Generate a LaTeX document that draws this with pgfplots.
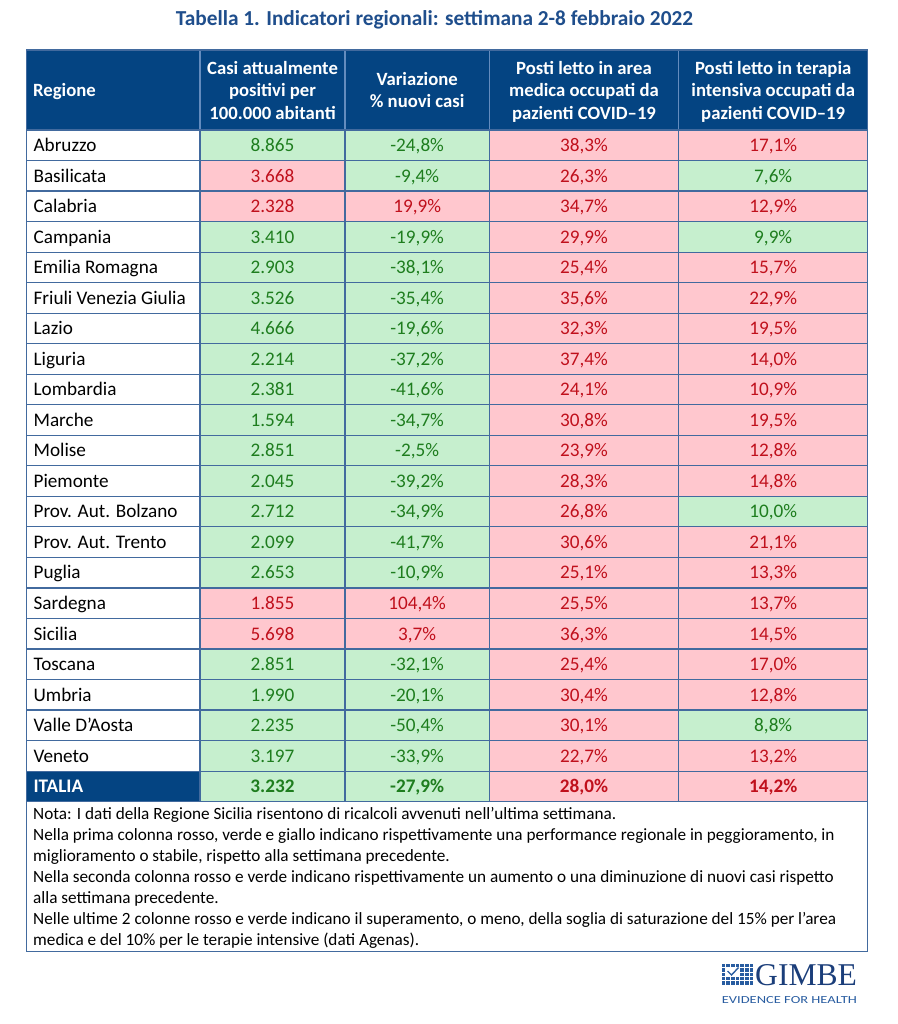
\documentclass[border=0pt]{standalone}
\usepackage{graphicx}
\usepackage{pgfplots}
\pgfplotsset{compat=1.18}
\usepackage{pgfplotstable}
\usepackage{fontspec}
\setmainfont{Carlito}
\newfontfamily\logoserif{Liberation Serif}

\definecolor{headblue}{RGB}{4,68,130}
\definecolor{titleblue}{RGB}{31,78,140}
\definecolor{gridblue}{RGB}{66,106,158}
\definecolor{hdrline}{RGB}{100,140,190}
\definecolor{gfill}{RGB}{198,239,206}
\definecolor{rfill}{RGB}{255,199,206}
\definecolor{gtext}{RGB}{30,125,30}
\definecolor{rtext}{RGB}{192,16,28}
\definecolor{logonavy}{RGB}{27,62,122}
\definecolor{logoblue}{RGB}{40,92,160}

\pgfdeclareplotmark{cellR}{\pgfpathrectangle{\pgfqpoint{-86.65pt}{-15.265pt}}{\pgfqpoint{173.3pt}{30.53pt}}\pgfusepathqfillstroke}
\pgfdeclareplotmark{cellA}{\pgfpathrectangle{\pgfqpoint{-72.5pt}{-15.265pt}}{\pgfqpoint{145pt}{30.53pt}}\pgfusepathqfillstroke}
\pgfdeclareplotmark{cellB}{\pgfpathrectangle{\pgfqpoint{-72.15pt}{-15.265pt}}{\pgfqpoint{144.3pt}{30.53pt}}\pgfusepathqfillstroke}
\pgfdeclareplotmark{cellC}{\pgfpathrectangle{\pgfqpoint{-94.7pt}{-15.265pt}}{\pgfqpoint{189.4pt}{30.53pt}}\pgfusepathqfillstroke}
\pgfdeclareplotmark{cellD}{\pgfpathrectangle{\pgfqpoint{-94.5pt}{-15.265pt}}{\pgfqpoint{189pt}{30.53pt}}\pgfusepathqfillstroke}
\pgfdeclareplotmark{logosq}{\pgfpathrectangle{\pgfqpoint{-1.75pt}{-1.65pt}}{\pgfqpoint{3.5pt}{3.3pt}}\pgfusepathqfill}

% k = 0 green, 1 red
\pgfplotstableread[col sep=semicolon, row sep=\\]{
idx;name;c1;k1;c2;k2;c3;k3;c4;k4\\
1;Abruzzo;8865;0;-24.8;0;38.3;1;17.1;1\\
2;Basilicata;3668;1;-9.4;0;26.3;1;7.6;0\\
3;Calabria;2328;1;19.9;1;34.7;1;12.9;1\\
4;Campania;3410;0;-19.9;0;29.9;1;9.9;0\\
5;Emilia Romagna;2903;0;-38.1;0;25.4;1;15.7;1\\
6;Friuli Venezia Giulia;3526;0;-35.4;0;35.6;1;22.9;1\\
7;Lazio;4666;0;-19.6;0;32.3;1;19.5;1\\
8;Liguria;2214;0;-37.2;0;37.4;1;14.0;1\\
9;Lombardia;2381;0;-41.6;0;24.1;1;10.9;1\\
10;Marche;1594;0;-34.7;0;30.8;1;19.5;1\\
11;Molise;2851;0;-2.5;0;23.9;1;12.8;1\\
12;Piemonte;2045;0;-39.2;0;28.3;1;14.8;1\\
13;Prov. Aut. Bolzano;2712;0;-34.9;0;26.8;1;10.0;0\\
14;Prov. Aut. Trento;2099;0;-41.7;0;30.6;1;21.1;1\\
15;Puglia;2653;0;-10.9;0;25.1;1;13.3;1\\
16;Sardegna;1855;1;104.4;1;25.5;1;13.7;1\\
17;Sicilia;5698;1;3.7;1;36.3;1;14.5;1\\
18;Toscana;2851;0;-32.1;0;25.4;1;17.0;1\\
19;Umbria;1990;0;-20.1;0;30.4;1;12.8;1\\
20;Valle D'Aosta;2235;0;-50.4;0;30.1;1;8.8;0\\
21;Veneto;3197;0;-33.9;0;22.7;1;13.2;1\\
22;ITALIA;3232;0;-27.9;0;28.0;1;14.2;1\\
}\regioni

\newcommand{\bodyfont}{\fontsize{19.2}{23}\selectfont}
\newcommand{\hdrfont}{\fontsize{18.7}{22}\selectfont\bfseries}
\newcommand{\notefont}{\fontsize{17.2}{20}\selectfont}

\pgfplotsset{
  cellstyle/.style={only marks, mark options={draw=gridblue, line width=1.2pt, fill=#1}},
  numlab/.style={point meta=explicit,
    nodes near coords={\pgfmathprintnumber[fixed,precision=0,1000 sep={.},assume math mode=true]{\pgfplotspointmeta}}},
  pctlab/.style={point meta=explicit,
    nodes near coords={\pgfmathprintnumber[fixed,fixed zerofill,precision=1,use comma,assume math mode=true]{\pgfplotspointmeta}\%}},
  labstyle/.style 2 args={every node near coord/.append style={anchor=base, yshift=-6.3pt, inner sep=0pt, font=\bodyfont#2, text=#1}},
}

\begin{document}
\begin{tikzpicture}
\begin{axis}[
  scale only axis, width=897pt, height=1024pt,
  xmin=0, xmax=897, ymin=0, ymax=1024, y dir=reverse,
  hide axis, clip=false,
  /pgf/number format/assume math mode=true,
]
\path (axis cs:0,0) rectangle (axis cs:897,1024);

% title
\node[anchor=base, inner sep=0pt, text=titleblue] at (axis cs:434.5,26) {\resizebox{517pt}{!}{\fontsize{20.3}{22}\selectfont\bfseries Tabella 1. Indicatori regionali: settimana 2-8 febbraio 2022}};

% header
\fill[headblue] (axis cs:26.7,50) rectangle (axis cs:867.7,130);
\draw[hdrline, line width=1.2pt] (axis cs:200,50) -- (axis cs:200,130);
\draw[hdrline, line width=1.2pt] (axis cs:345,50) -- (axis cs:345,130);
\draw[hdrline, line width=1.2pt] (axis cs:489.3,50) -- (axis cs:489.3,130);
\draw[hdrline, line width=1.2pt] (axis cs:678.7,50) -- (axis cs:678.7,130);
\draw[gridblue, line width=1.2pt] (axis cs:26.7,50) rectangle (axis cs:867.7,130);
\node[anchor=base west, inner sep=0pt, text=white, font=\hdrfont] at (axis cs:33,96.6) {Regione};
\node[anchor=base, inner sep=0pt, text=white, font=\hdrfont] at (axis cs:272.5,74.2) {Casi attualmente};
\node[anchor=base, inner sep=0pt, text=white, font=\hdrfont] at (axis cs:272.5,96.6) {positivi per};
\node[anchor=base, inner sep=0pt, text=white, font=\hdrfont] at (axis cs:272.5,119.2) {100.000 abitanti};
\node[anchor=base, inner sep=0pt, text=white, font=\hdrfont] at (axis cs:417.15,85.6) {Variazione};
\node[anchor=base, inner sep=0pt, text=white, font=\hdrfont] at (axis cs:417.15,107.9) {\% nuovi casi};
\node[anchor=base, inner sep=0pt, text=white, font=\hdrfont] at (axis cs:584,74.2) {Posti letto in area};
\node[anchor=base, inner sep=0pt, text=white, font=\hdrfont] at (axis cs:584,96.6) {medica occupati da};
\node[anchor=base, inner sep=0pt, text=white, font=\hdrfont] at (axis cs:584,119.2) {pazienti COVID–19};
\node[anchor=base, inner sep=0pt, text=white, font=\hdrfont] at (axis cs:773.2,74.2) {Posti letto in terapia};
\node[anchor=base, inner sep=0pt, text=white, font=\hdrfont] at (axis cs:773.2,96.6) {intensiva occupati da};
\node[anchor=base, inner sep=0pt, text=white, font=\hdrfont] at (axis cs:773.2,119.2) {pazienti COVID–19};

% region column
\addplot[cellstyle=white, mark=cellR, point meta=explicit symbolic, nodes near coords,
  every node near coord/.append style={anchor=base west, xshift=-80.35pt, yshift=-6.3pt, inner sep=0pt, font=\bodyfont, text=black}]
  table[x expr=113.35, y expr={\thisrow{idx}<22 ? 130+(\thisrow{idx}-0.5)*30.53 : nan}, meta=name]{\regioni};
\addplot[cellstyle=headblue, mark=cellR, point meta=explicit symbolic, nodes near coords,
  every node near coord/.append style={anchor=base west, xshift=-80.35pt, yshift=-6.3pt, inner sep=0pt, font=\bodyfont\bfseries, text=white}]
  table[x expr=113.35, y expr={\thisrow{idx}>21 ? 130+(\thisrow{idx}-0.5)*30.53 : nan}, meta=name]{\regioni};

% column 1
\addplot[cellstyle=gfill, mark=cellA, numlab, labstyle={gtext}{}]
  table[x expr=272.5, y expr={(\thisrow{k1}<0.5)&&(\thisrow{idx}<22) ? 130+(\thisrow{idx}-0.5)*30.53 : nan}, meta=c1]{\regioni};
\addplot[cellstyle=rfill, mark=cellA, numlab, labstyle={rtext}{}]
  table[x expr=272.5, y expr={(\thisrow{k1}>0.5)&&(\thisrow{idx}<22) ? 130+(\thisrow{idx}-0.5)*30.53 : nan}, meta=c1]{\regioni};
\addplot[cellstyle=gfill, mark=cellA, numlab, labstyle={gtext}{\bfseries}]
  table[x expr=272.5, y expr={(\thisrow{k1}<0.5)&&(\thisrow{idx}>21) ? 130+(\thisrow{idx}-0.5)*30.53 : nan}, meta=c1]{\regioni};
% column 2
\addplot[cellstyle=gfill, mark=cellB, pctlab, labstyle={gtext}{}]
  table[x expr=417.15, y expr={(\thisrow{k2}<0.5)&&(\thisrow{idx}<22) ? 130+(\thisrow{idx}-0.5)*30.53 : nan}, meta=c2]{\regioni};
\addplot[cellstyle=rfill, mark=cellB, pctlab, labstyle={rtext}{}]
  table[x expr=417.15, y expr={(\thisrow{k2}>0.5)&&(\thisrow{idx}<22) ? 130+(\thisrow{idx}-0.5)*30.53 : nan}, meta=c2]{\regioni};
\addplot[cellstyle=gfill, mark=cellB, pctlab, labstyle={gtext}{\bfseries}]
  table[x expr=417.15, y expr={(\thisrow{k2}<0.5)&&(\thisrow{idx}>21) ? 130+(\thisrow{idx}-0.5)*30.53 : nan}, meta=c2]{\regioni};
% column 3
\addplot[cellstyle=rfill, mark=cellC, pctlab, labstyle={rtext}{}]
  table[x expr=584, y expr={(\thisrow{k3}>0.5)&&(\thisrow{idx}<22) ? 130+(\thisrow{idx}-0.5)*30.53 : nan}, meta=c3]{\regioni};
\addplot[cellstyle=rfill, mark=cellC, pctlab, labstyle={rtext}{\bfseries}]
  table[x expr=584, y expr={(\thisrow{k3}>0.5)&&(\thisrow{idx}>21) ? 130+(\thisrow{idx}-0.5)*30.53 : nan}, meta=c3]{\regioni};
% column 4
\addplot[cellstyle=gfill, mark=cellD, pctlab, labstyle={gtext}{}]
  table[x expr=773.2, y expr={(\thisrow{k4}<0.5)&&(\thisrow{idx}<22) ? 130+(\thisrow{idx}-0.5)*30.53 : nan}, meta=c4]{\regioni};
\addplot[cellstyle=rfill, mark=cellD, pctlab, labstyle={rtext}{}]
  table[x expr=773.2, y expr={(\thisrow{k4}>0.5)&&(\thisrow{idx}<22) ? 130+(\thisrow{idx}-0.5)*30.53 : nan}, meta=c4]{\regioni};
\addplot[cellstyle=rfill, mark=cellD, pctlab, labstyle={rtext}{\bfseries}]
  table[x expr=773.2, y expr={(\thisrow{k4}>0.5)&&(\thisrow{idx}>21) ? 130+(\thisrow{idx}-0.5)*30.53 : nan}, meta=c4]{\regioni};

% notes
\draw[gridblue, line width=1.2pt, fill=white] (axis cs:26.7,801.7) rectangle (axis cs:867.7,951.7);
\node[anchor=base west, inner sep=0pt, font=\notefont] at (axis cs:33,819.3) {Nota: I dati della Regione Sicilia risentono di ricalcoli avvenuti nell’ultima settimana.};
\node[anchor=base west, inner sep=0pt, font=\notefont] at (axis cs:33,840.25) {Nella prima colonna rosso, verde e giallo indicano rispettivamente una performance regionale in peggioramento, in};
\node[anchor=base west, inner sep=0pt, font=\notefont] at (axis cs:33,861.2) {miglioramento o stabile, rispetto alla settimana precedente.};
\node[anchor=base west, inner sep=0pt, font=\notefont] at (axis cs:33,882.15) {Nella seconda colonna rosso e verde indicano rispettivamente un aumento o una diminuzione di nuovi casi rispetto};
\node[anchor=base west, inner sep=0pt, font=\notefont] at (axis cs:33,903.1) {alla settimana precedente.};
\node[anchor=base west, inner sep=0pt, font=\notefont] at (axis cs:33,924.05) {Nelle ultime 2 colonne rosso e verde indicano il superamento, o meno, della soglia di saturazione del 15\% per l’area};
\node[anchor=base west, inner sep=0pt, font=\notefont] at (axis cs:33,945) {medica e del 10\% per le terapie intensive (dati Agenas).};

% logo
\addplot[only marks, mark=logosq, color=logoblue] coordinates {
(723.4,965.6) (728.1,965.6) (732.8,965.6) (737.5,965.6) (742.2,965.6) (746.9,965.6) (751.6,965.6)
(723.4,969.98) (742.2,969.98) (746.9,969.98) (751.6,969.98)
(723.4,974.36) (742.2,974.36) (746.9,974.36) (751.6,974.36)
(723.4,978.74) (728.1,978.74) (732.8,978.74) (737.5,978.74) (742.2,978.74) (746.9,978.74) (751.6,978.74)
(723.4,983.12) (728.1,983.12) (732.8,983.12) (737.5,983.12) (742.2,983.12) (746.9,983.12) (751.6,983.12)
};
\draw[logoblue, line width=1.4pt] (axis cs:727.5,971) -- (axis cs:731.5,975) -- (axis cs:738.5,967.5);
\node[anchor=base west, inner sep=0pt, text=logonavy] at (axis cs:755,985) {\resizebox{101.7pt}{21pt}{\logoserif\fontsize{31}{31}\selectfont GIMBE}};
\node[anchor=base west, inner sep=0pt, text=logoblue] at (axis cs:721.7,1003.3) {\resizebox{135pt}{7pt}{\fontsize{10.5}{12}\selectfont EVIDENCE FOR HEALTH}};
\end{axis}
\end{tikzpicture}
\end{document}
